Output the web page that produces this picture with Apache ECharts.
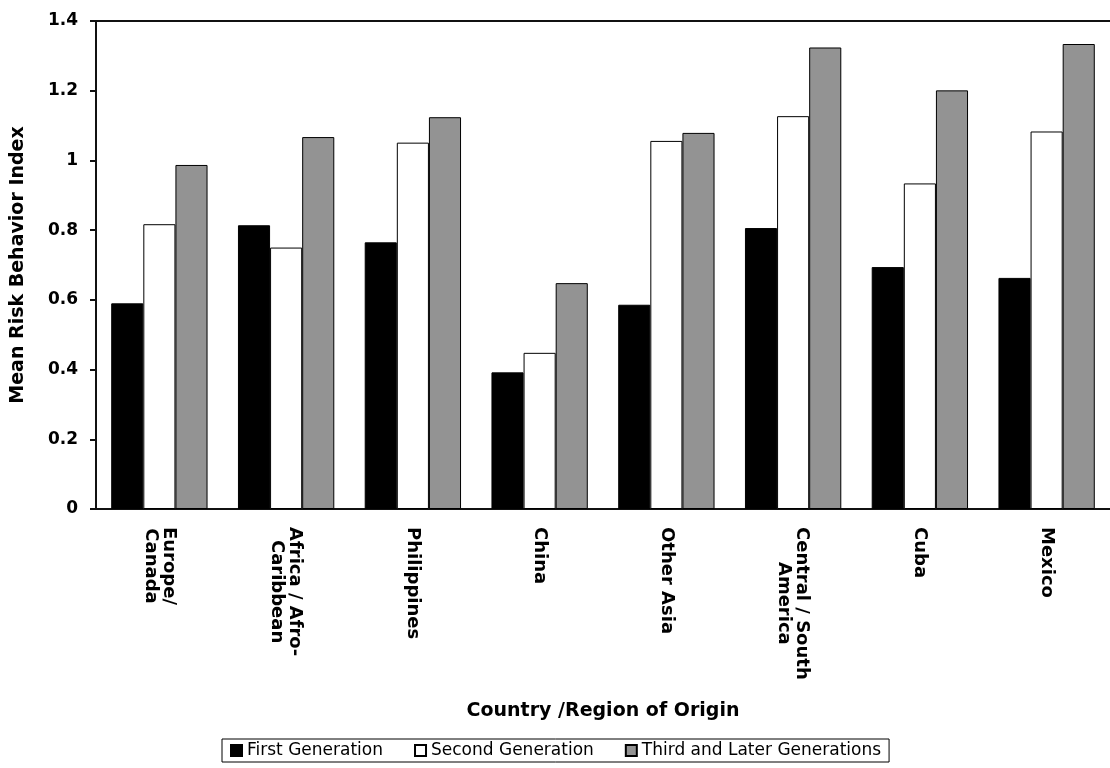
<!DOCTYPE html>
<html>
<head>
<meta charset="utf-8">
<title>Mean Risk Behavior Index by Country/Region of Origin</title>
<script src="https://cdn.jsdelivr.net/npm/echarts@6/dist/echarts.min.js"></script>
<style>
  html, body { margin: 0; padding: 0; background: #fff; }
  #chart { width: 1110px; height: 768px; }
</style>
</head>
<body>
<div id="chart"></div>
<script>
// Country / region of origin (line breaks as printed under the axis)
const categories = [
  'Europe/\nCanada',
  'Africa / Afro-\nCaribbean',
  'Philippines',
  'China',
  'Other Asia',
  'Central / South\nAmerica',
  'Cuba',
  'Mexico'
];

const seriesNames = ['First Generation', 'Second Generation', 'Third and Later Generations'];

// Mean risk behavior index per generation
const firstGen  = [0.590, 0.814, 0.765, 0.392, 0.586, 0.806, 0.694, 0.663];
const secondGen = [0.817, 0.750, 1.051, 0.448, 1.056, 1.127, 0.934, 1.083];
const thirdGen  = [0.987, 1.067, 1.124, 0.648, 1.079, 1.324, 1.201, 1.334];

const yMin = 0, yMax = 1.4, yStep = 0.2;

const FONT = '"DejaVu Sans", Arial, sans-serif';
const fills = ['#000000', '#ffffff', '#939393'];

const chart = echarts.init(document.getElementById('chart'), null, { renderer: 'canvas' });

function makeBar(name, data, color) {
  return {
    name: name,
    type: 'bar',
    data: data,
    xAxisIndex: 0,
    barGap: '0%',
    barCategoryGap: '24%',
    itemStyle: { color: color, borderColor: '#000', borderWidth: 1 },
    emphasis: { disabled: true },
    animation: false
  };
}

chart.setOption({
  backgroundColor: '#ffffff',
  animation: false,
  grid: { left: 96, right: -2, top: 21, bottom: 259, containLabel: false },
  legend: {
    data: seriesNames,
    left: 222,
    top: 739,
    orient: 'horizontal',
    icon: 'rect',
    itemWidth: 11,
    itemHeight: 11,
    itemGap: 31,
    padding: [3, 8, 3, 8],
    borderColor: '#000',
    borderWidth: 1,
    borderRadius: 0,
    selectedMode: false,
    textStyle: { fontFamily: FONT, fontSize: 17, color: '#000', padding: [0, 0, 0, 0] }
  },
  xAxis: [
    {
      type: 'category',
      position: 'bottom',
      data: categories,
      name: 'Country /Region of Origin',
      nameLocation: 'middle',
      nameGap: 193,
      nameTextStyle: { fontFamily: FONT, fontSize: 19, fontWeight: 'bold', color: '#000' },
      axisLine: { show: true, lineStyle: { color: '#111', width: 2 } },
      axisTick: { show: false },
      axisLabel: {
        rotate: -90,
        margin: 18,
        interval: 0,
        formatter: function (v) {
          return v.split('\n').map(function (line) { return '{c|' + line + '}'; }).join('\n');
        },
        rich: {
          c: { fontFamily: FONT, fontSize: 18, fontWeight: 'bold', color: '#000', align: 'center', lineHeight: 18 }
        }
      },
      splitLine: { show: false }
    },
    {
      // frame line along the top of the plot
      type: 'category',
      position: 'top',
      data: categories,
      axisLine: { show: true, lineStyle: { color: '#111', width: 2 } },
      axisTick: { show: false },
      axisLabel: { show: false },
      splitLine: { show: false }
    }
  ],
  yAxis: {
    type: 'value',
    min: yMin,
    max: yMax,
    interval: yStep,
    name: 'Mean Risk Behavior Index',
    nameLocation: 'middle',
    nameGap: 68,
    nameRotate: 90,
    nameTextStyle: { fontFamily: FONT, fontSize: 19, fontWeight: 'bold', color: '#000' },
    axisLine: { show: true, lineStyle: { color: '#111', width: 2 } },
    axisTick: { show: true, inside: false, length: 6, lineStyle: { color: '#111', width: 2 } },
    axisLabel: { margin: 18, fontFamily: FONT, fontSize: 17, fontWeight: 'bold', color: '#000' },
    splitLine: { show: false }
  },
  series: [
    makeBar(seriesNames[0], firstGen, fills[0]),
    makeBar(seriesNames[1], secondGen, fills[1]),
    makeBar(seriesNames[2], thirdGen, fills[2])
  ]
});
</script>
</body>
</html>
